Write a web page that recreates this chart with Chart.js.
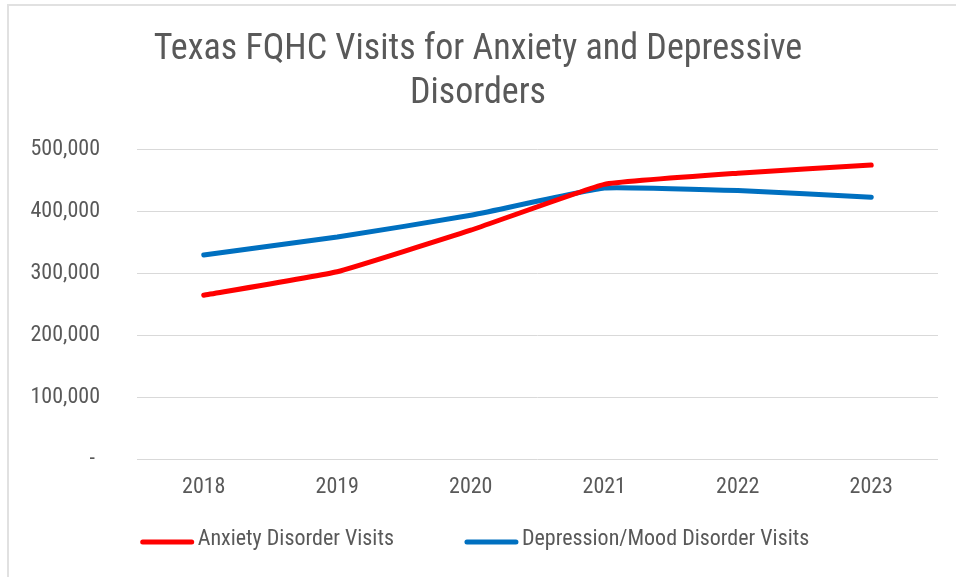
<!DOCTYPE html>
<html>
<head>
<meta charset="utf-8">
<title>Texas FQHC Visits for Anxiety and Depressive Disorders</title>
<script src="https://cdn.jsdelivr.net/npm/chart.js@4/dist/chart.umd.min.js"></script>
<style>
  html, body { margin: 0; padding: 0; background: #ffffff; }
  #wrap { position: relative; width: 956px; height: 577px; overflow: hidden; }
  #frame {
    position: absolute; left: 7px; top: 4px; right: -4px; bottom: -4px;
    border-left: 2px solid #e1e1e1; border-top: 2px solid #e1e1e1;
    pointer-events: none;
  }
  canvas { position: absolute; left: 0; top: 0; }
</style>
</head>
<body>
<div id="wrap">
  <canvas id="chart" width="956" height="577"></canvas>
  <div id="frame"></div>
</div>
<script>
// Reporting years
const years = ['2018', '2019', '2020', '2021', '2022', '2023'];

// Annual visit counts
const anxietyVisits    = [264000, 302000, 369000, 443000, 461000, 474000];
const depressionVisits = [329000, 358000, 393000, 437000, 433000, 422000];

// Series names
const seriesNames = ['Anxiety Disorder Visits', 'Depression/Mood Disorder Visits'];

// Chart title lines
const titleLines = ['Texas FQHC Visits for Anxiety and Depressive', 'Disorders'];

const FONT = "'Roboto Condensed', 'Liberation Sans Narrow', 'Arial Narrow', sans-serif";
const TEXT = '#595959';

// Line-style legend drawn under the axis
const lineLegend = {
  id: 'lineLegend',
  afterDraw(chart) {
    const ctx = chart.ctx;
    const size = 22;
    ctx.save();
    ctx.font = size + 'px ' + FONT;
    ctx.textBaseline = 'middle';
    const lineLen = 53, gap = 4, itemGap = 71;
    const items = chart.data.datasets.map(ds => ({
      label: ds.label, color: ds.borderColor,
      w: lineLen + gap + ctx.measureText(ds.label).width
    }));
    const total = items.reduce((s, it) => s + it.w, 0) + itemGap * (items.length - 1);
    let x = chart.width / 2 - 3 - total / 2;
    const y = 542;
    items.forEach(it => {
      ctx.strokeStyle = it.color;
      ctx.lineWidth = 5;
      ctx.lineCap = 'round';
      ctx.beginPath();
      ctx.moveTo(x + 2, y);
      ctx.lineTo(x + lineLen - 2, y);
      ctx.stroke();
      ctx.fillStyle = TEXT;
      ctx.fillText(it.label, x + lineLen + gap, y - 3);
      x += it.w + itemGap;
    });
    ctx.restore();
  }
};

new Chart(document.getElementById('chart'), {
  type: 'line',
  data: {
    labels: years,
    datasets: [
      {
        label: seriesNames[0],
        data: anxietyVisits,
        borderColor: '#ff0000',
        backgroundColor: '#ff0000',
        borderWidth: 5,
        pointRadius: 0,
        tension: 0.1,
        borderCapStyle: 'round',
        borderJoinStyle: 'round'
      },
      {
        label: seriesNames[1],
        data: depressionVisits,
        borderColor: '#0070c0',
        backgroundColor: '#0070c0',
        borderWidth: 5,
        pointRadius: 0,
        tension: 0.1,
        borderCapStyle: 'round',
        borderJoinStyle: 'round'
      }
    ]
  },
  options: {
    responsive: false,
    animation: false,
    layout: { padding: { left: 18, right: 18, top: 0, bottom: 68 } },
    plugins: {
      legend: { display: false },
      tooltip: { enabled: false },
      title: {
        display: true,
        text: titleLines,
        color: TEXT,
        font: { family: FONT, size: 36, weight: 'normal', lineHeight: 44 / 36 },
        padding: { top: 28, bottom: 33 }
      }
    },
    scales: {
      x: {
        offset: true,
        grid: { display: false, drawTicks: false },
        border: { display: false },
        ticks: { color: TEXT, font: { family: FONT, size: 22 }, padding: 15, maxRotation: 0 },
        afterFit(scale) { scale.height = 50; }
      },
      y: {
        min: 0,
        max: 500000,
        grid: { color: '#d9d9d9', lineWidth: 1, drawTicks: false },
        border: { display: false },
        ticks: {
          stepSize: 100000,
          color: TEXT,
          font: { family: FONT, size: 22 },
          padding: 37,
          callback: v => v === 0 ? '- ' : v.toLocaleString('en-US')
        },
        afterFit(scale) { scale.width = 119; }
      }
    }
  },
  plugins: [lineLegend]
});
</script>
</body>
</html>
